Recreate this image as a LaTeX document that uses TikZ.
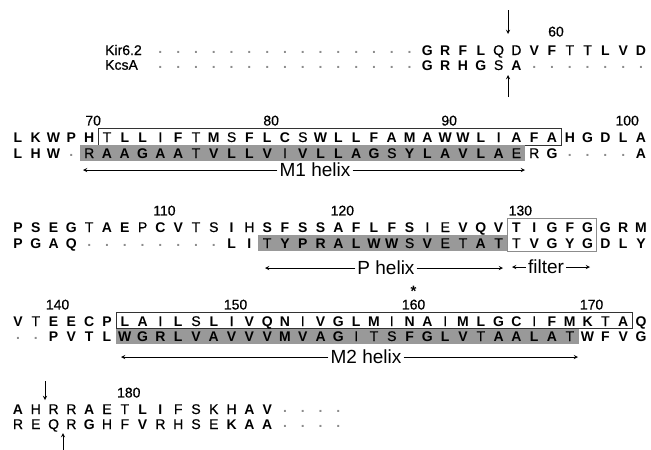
\documentclass[tikz,border=0pt]{standalone}
\usepackage{fontspec}
\setmainfont{Liberation Sans}
\newfontfamily\medfont{Liberation Sans}[FakeBold=0.6]
\usetikzlibrary{positioning}

% one aligned row: name prefix, y, first column, residue/style list
\newcommand{\seqrow}[4]{%
  \foreach \aa/\wt [count=\c from #3] in {#4}
    \node[\wt] (#1-\c) at ({\xo+\c*\dx},#2) {\aa};
}

\begin{document}
\begin{tikzpicture}[x=1pt, y=-1pt, >=stealth,
  res/.style={inner sep=0pt, text height=10pt, text depth=0pt},
  rb/.style={res, font=\fontsize{14}{14}\selectfont\bfseries},
  rn/.style={res, font=\fontsize{14}{14}\medfont},
  gp/.style={inner sep=0pt, text=black!45, font=\fontsize{14}{14}\selectfont\bfseries, yshift=-2pt},
  resnum/.style={inner sep=0pt, xshift=4pt, font=\fontsize{14}{14}\medfont},
  seqname/.style={anchor=west, inner sep=0pt, font=\fontsize{14}{14}\medfont},
  tmbox/.style={draw=black!80, line width=0.8pt},
  filterbox/.style={draw=black!45, line width=0.8pt},
  shade/.style={fill=black!40},
  helix/.style={->, line width=0.9pt},
  helixlabel/.style={inner sep=2pt, font=\fontsize{19}{19}\selectfont},
  site/.style={->, line width=0.9pt},
  conserved/.style={inner sep=0pt, font=\fontsize{15}{15}\selectfont\bfseries}]
\def\xo{18}   % x of column 0
\def\dx{17.8} % column pitch
\useasboundingbox (0,0) rectangle (651,450);

% --- boxes and shading (behind the letters) ---
\draw[tmbox] ({\xo+4.5*\dx},128) rectangle ({\xo+30.5*\dx},145);
\fill[shade] ({\xo+3.5*\dx},145) rectangle ({\xo+28.5*\dx},161);
\fill[shade] ({\xo+13.5*\dx},235) rectangle ({\xo+27.5*\dx},251);
\draw[filterbox] ({\xo+27.5*\dx},218) rectangle ({\xo+32.5*\dx},251);
\draw[tmbox] ({\xo+5.5*\dx},312) rectangle ({\xo+34.5*\dx},328.5);
\fill[shade] ({\xo+5.5*\dx},328.5) rectangle ({\xo+31.5*\dx},344);

% --- sequence names ---
\node[seqname] (kirname) at (105,50) {Kir6.2};
\node[seqname] (kcsname) at (105,65) {KcsA};

% --- block 1 ---
\seqrow{kir1}{50}{8}{./gp,./gp,./gp,./gp,./gp,./gp,./gp,./gp,./gp,./gp,./gp,./gp,./gp,./gp,./gp,
  G/rb,R/rb,F/rb,L/rb,Q/rn,D/rn,V/rb,F/rb,T/rn,T/rn,L/rb,V/rb,D/rb}
\seqrow{kcs1}{65}{8}{./gp,./gp,./gp,./gp,./gp,./gp,./gp,./gp,./gp,./gp,./gp,./gp,./gp,./gp,./gp,
  G/rb,R/rb,H/rb,G/rb,S/rn,A/rb,./gp,./gp,./gp,./gp,./gp,./gp,./gp}

% --- block 2 ---
\seqrow{kir2}{137}{0}{L/rb,K/rb,W/rb,P/rb,H/rb,T/rn,L/rb,L/rb,I/rn,F/rb,T/rn,M/rb,S/rn,F/rb,L/rb,C/rb,S/rn,W/rb,
  L/rb,L/rb,F/rb,A/rb,M/rb,A/rb,W/rb,W/rb,L/rb,I/rn,A/rb,F/rb,A/rb,H/rb,G/rb,D/rb,L/rb,A/rb}
\seqrow{kcs2}{153}{0}{L/rb,H/rb,W/rb,./gp,R/rn,A/rb,A/rb,G/rb,A/rb,A/rb,T/rn,V/rb,L/rb,L/rb,V/rb,I/rn,V/rb,L/rb,
  L/rb,A/rb,G/rb,S/rn,Y/rb,L/rb,A/rb,V/rb,L/rb,A/rb,E/rn,R/rn,G/rb,./gp,./gp,./gp,./gp,A/rb}

% --- block 3 ---
\seqrow{kir3}{227}{0}{P/rb,S/rb,E/rb,G/rb,T/rn,A/rb,E/rb,P/rn,C/rb,V/rb,T/rn,S/rn,I/rb,H/rn,S/rb,F/rb,S/rb,S/rb,
  A/rb,F/rb,L/rb,F/rb,S/rb,I/rn,E/rn,V/rb,Q/rb,V/rb,T/rb,I/rb,G/rb,F/rb,G/rb,G/rb,R/rb,M/rb}
\seqrow{kcs3}{243}{0}{P/rb,G/rb,A/rb,Q/rb,./gp,./gp,./gp,./gp,./gp,./gp,./gp,./gp,L/rb,I/rb,T/rn,Y/rb,P/rb,R/rb,
  A/rb,L/rb,W/rb,W/rb,S/rn,V/rb,E/rn,T/rn,A/rb,T/rn,T/rn,V/rb,G/rb,Y/rb,G/rb,D/rb,L/rb,Y/rb}

% --- block 4 ---
\seqrow{kir4}{321}{0}{V/rb,T/rn,E/rb,E/rb,C/rb,P/rb,L/rb,A/rb,I/rn,L/rb,S/rn,L/rb,I/rn,V/rb,Q/rb,N/rb,I/rn,V/rb,
  G/rb,L/rb,M/rb,I/rn,N/rb,A/rb,I/rn,M/rb,L/rb,G/rb,C/rb,I/rn,F/rb,M/rb,K/rb,T/rn,A/rb,Q/rb}
\seqrow{kcs4}{336}{0}{./gp,./gp,P/rb,V/rb,T/rb,L/rb,W/rb,G/rb,R/rb,L/rb,V/rb,A/rb,V/rb,V/rb,V/rb,M/rb,V/rb,A/rb,
  G/rb,I/rn,T/rn,S/rn,F/rb,G/rb,L/rb,V/rb,T/rn,A/rb,A/rb,L/rb,A/rb,T/rn,W/rb,F/rb,V/rb,G/rb}

% --- block 5 ---
\seqrow{kir5}{409}{0}{A/rb,H/rn,R/rn,R/rn,A/rb,E/rn,T/rn,L/rb,I/rb,F/rn,S/rn,K/rn,H/rn,A/rb,V/rb,./gp,./gp,./gp,./gp}
\seqrow{kcs5}{424}{0}{R/rn,E/rn,Q/rn,R/rn,G/rb,H/rn,F/rn,V/rb,R/rn,H/rn,S/rn,E/rn,K/rb,A/rb,A/rb,./gp,./gp,./gp,./gp}

% --- residue numbers ---
\node[resnum, above=8pt of kir1-30] (n60) {60};
\node[resnum, above=6pt of kir2-4] (n70) {70};
\node[resnum, above=6pt of kir2-14] (n80) {80};
\node[resnum, above=6pt of kir2-24] (n90) {90};
\node[resnum, above=6pt of kir2-34] (n100) {100};
\node[resnum, above=6pt of kir3-8] (n110) {110};
\node[resnum, above=6pt of kir3-18] (n120) {120};
\node[resnum, above=6pt of kir3-28] (n130) {130};
\node[resnum, above=6pt of kir4-2] (n140) {140};
\node[resnum, above=6pt of kir4-12] (n150) {150};
\node[resnum, above=6pt of kir4-22] (n160) {160};
\node[resnum, above=6pt of kir4-32] (n170) {170};
\node[resnum, above=6pt of kir5-6] (n180) {180};
\node[conserved, above=3pt of n160] (ast) {*};

% --- helix and filter spans ---
\node[helixlabel] (m1lab) at (315,170) {M1 helix};
\coordinate (m1l) at (83,170);
\coordinate (m1r) at (525,170);
\draw[helix] (m1lab) -- (m1l);
\draw[helix] (m1lab) -- (m1r);

\node[helixlabel] (plab) at (386,268) {P helix};
\coordinate (pl) at (265,268);
\coordinate (pr) at (503,268);
\draw[helix] (plab) -- (pl);
\draw[helix] (plab) -- (pr);

\node[helixlabel] (filtlab) at (546,267) {filter};
\coordinate (fl) at (512,267);
\coordinate (fr) at (590,267);
\draw[helix] (filtlab) -- (fl);
\draw[helix] (filtlab) -- (fr);

\node[helixlabel] (m2lab) at (366,357) {M2 helix};
\coordinate (m2l) at (121,357);
\coordinate (m2r) at (578,357);
\draw[helix] (m2lab) -- (m2l);
\draw[helix] (m2lab) -- (m2r);

% --- site arrows ---
\coordinate (s1a) at (508,10);  \coordinate (s1b) at (508,34);
\coordinate (s2a) at (508,97);  \coordinate (s2b) at (508,75);
\coordinate (s3a) at (45,381);  \coordinate (s3b) at (45,400);
\coordinate (s4a) at (63,450);  \coordinate (s4b) at (63,433);
\draw[site] (s1a) -- (s1b);
\draw[site] (s2a) -- (s2b);
\draw[site] (s3a) -- (s3b);
\draw[site] (s4a) -- (s4b);
\end{tikzpicture}
\end{document}
